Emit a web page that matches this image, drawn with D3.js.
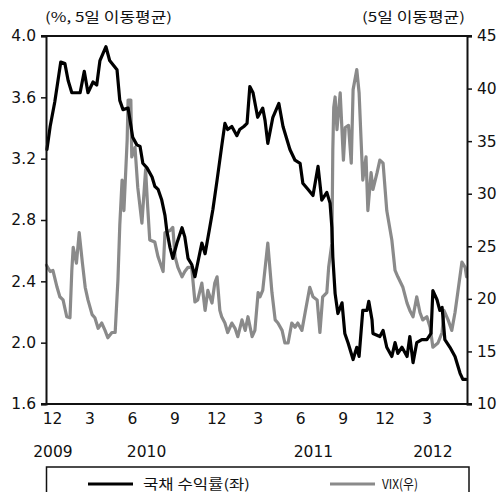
<!DOCTYPE html>
<html><head><meta charset="utf-8">
<script src="https://cdn.jsdelivr.net/npm/d3@7"></script>
<style>
html,body{margin:0;padding:0;background:#fff;}
svg{display:block;}
</style></head>
<body>
<svg id="chart" width="504" height="492"></svg>
<script>
// ---- data ----
const bondDates = ["2009-12-03","2009-12-10","2009-12-20","2009-12-27","2010-01-02","2010-01-11","2010-01-18","2010-01-26","2010-02-04","2010-02-13","2010-02-22","2010-03-02","2010-03-13","2010-03-21","2010-03-28","2010-04-10","2010-04-18","2010-05-04","2010-05-10","2010-05-17","2010-05-28","2010-06-07","2010-06-16","2010-06-23","2010-06-29","2010-07-08","2010-07-19","2010-07-25","2010-08-01","2010-08-09","2010-08-16","2010-08-20","2010-08-27","2010-09-02","2010-09-11","2010-09-22","2010-09-28","2010-10-05","2010-10-13","2010-10-20","2010-10-24","2010-11-04","2010-11-11","2010-11-21","2010-11-28","2010-12-07","2010-12-17","2010-12-24","2010-12-30","2011-01-08","2011-01-19","2011-01-25","2011-02-03","2011-02-10","2011-02-16","2011-02-23","2011-03-05","2011-03-16","2011-03-21","2011-03-27","2011-04-07","2011-04-20","2011-04-29","2011-05-14","2011-05-25","2011-06-05","2011-06-11","2011-06-22","2011-07-03","2011-07-14","2011-07-22","2011-08-02","2011-08-09","2011-08-13","2011-08-15","2011-08-20","2011-08-26","2011-09-04","2011-09-10","2011-09-17","2011-09-28","2011-10-06","2011-10-11","2011-10-19","2011-10-28","2011-11-01","2011-11-08","2011-11-10","2011-11-25","2011-12-02","2011-12-10","2011-12-21","2011-12-28","2012-01-03","2012-01-12","2012-01-23","2012-01-29","2012-02-05","2012-02-13","2012-02-24","2012-03-06","2012-03-15","2012-03-19","2012-03-28","2012-04-03","2012-04-08","2012-04-14","2012-04-25","2012-05-06","2012-05-17","2012-05-23","2012-05-30"];
const bondYield = [3.26,3.41,3.57,3.71,3.83,3.82,3.71,3.63,3.63,3.63,3.77,3.63,3.70,3.68,3.84,3.93,3.84,3.78,3.58,3.52,3.53,3.34,3.29,3.28,3.17,3.14,3.08,3.02,3.00,2.93,2.83,2.73,2.62,2.55,2.65,2.75,2.69,2.55,2.51,2.43,2.49,2.65,2.58,2.75,2.87,3.06,3.28,3.43,3.39,3.41,3.35,3.39,3.41,3.43,3.67,3.63,3.47,3.53,3.45,3.30,3.47,3.56,3.41,3.26,3.19,3.17,3.04,3.00,2.96,3.15,2.93,2.98,2.91,2.75,2.56,2.32,2.19,2.26,2.06,2.00,1.89,1.97,1.91,2.21,2.21,2.27,2.15,2.06,2.04,2.08,1.97,1.91,2.00,1.93,1.97,1.91,2.04,1.87,2.00,2.02,2.02,2.06,2.34,2.28,2.21,2.23,2.02,1.97,1.91,1.80,1.76,1.76];

const vixDates = ["2009-12-02","2009-12-10","2009-12-16","2009-12-25","2009-12-31","2010-01-07","2010-01-15","2010-01-22","2010-01-26","2010-01-29","2010-02-05","2010-02-11","2010-02-18","2010-02-24","2010-03-02","2010-03-11","2010-03-17","2010-03-24","2010-04-01","2010-04-08","2010-04-14","2010-04-23","2010-04-30","2010-05-06","2010-05-10","2010-05-15","2010-05-19","2010-05-26","2010-05-28","2010-06-03","2010-06-05","2010-06-12","2010-06-18","2010-06-27","2010-07-05","2010-07-09","2010-07-14","2010-07-25","2010-08-01","2010-08-12","2010-08-16","2010-08-27","2010-09-02","2010-09-07","2010-09-13","2010-09-22","2010-09-28","2010-10-05","2010-10-13","2010-10-20","2010-10-26","2010-11-04","2010-11-11","2010-11-17","2010-11-26","2010-12-02","2010-12-07","2010-12-13","2010-12-17","2010-12-24","2010-12-30","2011-01-08","2011-01-15","2011-01-21","2011-01-30","2011-02-06","2011-02-12","2011-02-21","2011-02-27","2011-03-06","2011-03-10","2011-03-16","2011-03-27","2011-04-05","2011-04-12","2011-04-18","2011-04-27","2011-05-03","2011-05-10","2011-05-18","2011-05-25","2011-05-31","2011-06-09","2011-06-16","2011-06-26","2011-07-03","2011-07-12","2011-07-18","2011-07-24","2011-08-02","2011-08-06","2011-08-13","2011-08-15","2011-08-17","2011-08-20","2011-08-24","2011-08-31","2011-09-07","2011-09-11","2011-09-18","2011-09-24","2011-09-28","2011-10-06","2011-10-11","2011-10-15","2011-10-19","2011-10-26","2011-10-30","2011-11-06","2011-11-10","2011-11-19","2011-11-25","2011-12-02","2011-12-10","2011-12-21","2011-12-28","2012-01-03","2012-01-14","2012-01-23","2012-01-29","2012-02-05","2012-02-13","2012-02-20","2012-02-26","2012-03-06","2012-03-13","2012-03-19","2012-03-30","2012-04-08","2012-04-12","2012-04-21","2012-04-29","2012-05-06","2012-05-12","2012-05-21","2012-05-28","2012-05-31"];
const vixValues = [23.2,22.6,22.7,21.1,20.2,19.9,18.3,18.2,22.7,24.9,23.4,26.3,23.4,21.1,19.9,18.5,18.2,17.2,17.7,17.0,16.3,16.8,16.8,21.8,27.0,31.3,28.4,35.1,38.9,38.9,33.5,34.4,30.6,27.2,32.3,29.1,25.6,25.4,24.0,22.6,26.3,26.5,26.8,24.0,23.0,22.1,22.6,23.0,23.0,19.7,19.9,21.5,18.9,20.8,19.6,21.5,22.1,18.9,18.3,17.7,16.8,17.7,17.2,16.4,18.0,17.0,18.3,16.4,17.0,20.6,20.2,20.8,25.3,20.6,18.0,17.7,17.0,15.8,15.8,17.7,17.3,17.7,17.0,18.7,21.1,20.2,19.9,16.8,20.2,20.6,23.0,25.3,34.2,38.2,39.2,36.1,39.6,33.2,36.3,36.5,32.9,39.9,41.8,39.6,35.4,31.3,33.5,28.4,32.0,30.4,32.0,33.2,32.9,28.4,25.6,22.7,22.1,21.1,19.6,18.9,18.3,20.2,18.7,18.0,18.3,17.3,15.4,15.8,16.8,18.9,18.0,17.0,18.7,20.6,23.5,23.0,22.1];

const monthTickDates = ["2009-12-01","2010-03-01","2010-06-01","2010-09-01","2010-12-01","2011-03-01","2011-06-01","2011-09-01","2011-12-01","2012-03-01"];
const yearLabels = ["2009","2010","2011","2012"];
const yearLabelDates = ["2009-12-16","2010-07-07","2011-07-04","2012-03-19"];
const leftTicks = [1.6,2.0,2.4,2.8,3.2,3.6,4.0];
const rightTicks = [10,15,20,25,30,35,40,45];
const seriesNames = ["국채 수익률(좌)","VIX(우)"];
const leftUnit = "(%, 5일 이동평균)";
const rightUnit = "(5일 이동평균)";

// ---- chart ----
const parse = d3.timeParse("%Y-%m-%d");
const L = 46, R = 467, T = 36, B = 404;
const svg = d3.select("#chart");
const numFont = "'DejaVu Sans', sans-serif";
const krFont = "'Noto Sans CJK KR', sans-serif";

const x = d3.scaleTime().domain([parse("2009-12-01"), parse("2012-06-01")]).range([L, R]);
const yL = d3.scaleLinear().domain([1.6, 4.0]).range([B, T]);
const yR = d3.scaleLinear().domain([10, 45]).range([B, T]);

const bond = bondDates.map((d,i)=>({date: parse(d), v: bondYield[i]}));
const vix = vixDates.map((d,i)=>({date: parse(d), v: vixValues[i]}));

// lines (VIX below bond)
svg.append("path").datum(vix)
  .attr("fill","none").attr("stroke","#8a8a8a").attr("stroke-width",3.2)
  .attr("stroke-linejoin","round").attr("stroke-linecap","round")
  .attr("d", d3.line().x(d=>x(d.date)).y(d=>yR(d.v)));
svg.append("path").datum(bond)
  .attr("fill","none").attr("stroke","#000").attr("stroke-width",3.2)
  .attr("stroke-linejoin","round").attr("stroke-linecap","round")
  .attr("d", d3.line().x(d=>x(d.date)).y(d=>yL(d.v)));

// frame top/bottom
svg.append("line").attr("x1",L-5).attr("x2",R+5).attr("y1",T).attr("y2",T).attr("stroke","#111").attr("stroke-width",2);
svg.append("line").attr("x1",L-5).attr("x2",R+5).attr("y1",B).attr("y2",B).attr("stroke","#111").attr("stroke-width",2);

// left axis
const gL = svg.append("g").attr("transform",`translate(${L},0)`)
  .call(d3.axisLeft(yL).tickValues(leftTicks).tickFormat(d3.format(".1f")).tickSize(5).tickPadding(5));
// right axis
const gR = svg.append("g").attr("transform",`translate(${R},0)`)
  .call(d3.axisRight(yR).tickValues(rightTicks).tickFormat(d3.format("d")).tickSize(5).tickPadding(5));
[gL,gR].forEach(g=>{
  g.select(".domain").attr("stroke","#111").attr("stroke-width",2);
  g.selectAll(".tick line").attr("stroke","#111").attr("stroke-width",1.5);
  g.selectAll("text").attr("font-family",numFont).attr("font-size",15.5).attr("fill","#111");
});

// bottom month labels
const gB = svg.append("g").attr("transform",`translate(2,${B})`)
  .call(d3.axisBottom(x).tickValues(monthTickDates.map(parse)).tickFormat(d=>String(d.getMonth()+1)).tickSize(0).tickPadding(9));
gB.select(".domain").remove();
gB.selectAll("text").attr("font-family",numFont).attr("font-size",15.5).attr("fill","#111");
gB.select(".tick:first-of-type text").attr("dx",4);

// year labels
svg.append("g").selectAll("text").data(yearLabels).join("text")
  .attr("x",(d,i)=>x(parse(yearLabelDates[i])))
  .attr("y",457).attr("text-anchor","middle")
  .attr("font-family",numFont).attr("font-size",15.5).attr("fill","#111")
  .text(d=>d);

// unit labels
svg.append("text").attr("x",45).attr("y",22).attr("font-family",krFont).attr("font-size",13.5)
  .attr("fill","#111").attr("textLength",127).attr("lengthAdjust","spacingAndGlyphs").text(leftUnit);
svg.append("text").attr("x",362).attr("y",22).attr("font-family",krFont).attr("font-size",13.5)
  .attr("fill","#111").attr("textLength",103).attr("lengthAdjust","spacingAndGlyphs").text(rightUnit);

// legend
svg.append("rect").attr("x",46.5).attr("y",467).attr("width",422.5).attr("height",40)
  .attr("fill","none").attr("stroke","#111").attr("stroke-width",1.5);
svg.append("line").attr("x1",88).attr("x2",133).attr("y1",484).attr("y2",484).attr("stroke","#000").attr("stroke-width",3.2);
svg.append("line").attr("x1",330).attr("x2",375).attr("y1",484).attr("y2",484).attr("stroke","#8a8a8a").attr("stroke-width",3.2);
svg.append("text").attr("x",143).attr("y",489).attr("font-family",krFont).attr("font-size",13.5).attr("fill","#111")
  .attr("textLength",107).attr("lengthAdjust","spacingAndGlyphs").text(seriesNames[0]);
svg.append("text").attr("x",382).attr("y",489).attr("font-family",krFont).attr("font-size",13.5).attr("fill","#111")
  .attr("textLength",36).attr("lengthAdjust","spacingAndGlyphs").text(seriesNames[1]);
</script>
</body></html>
